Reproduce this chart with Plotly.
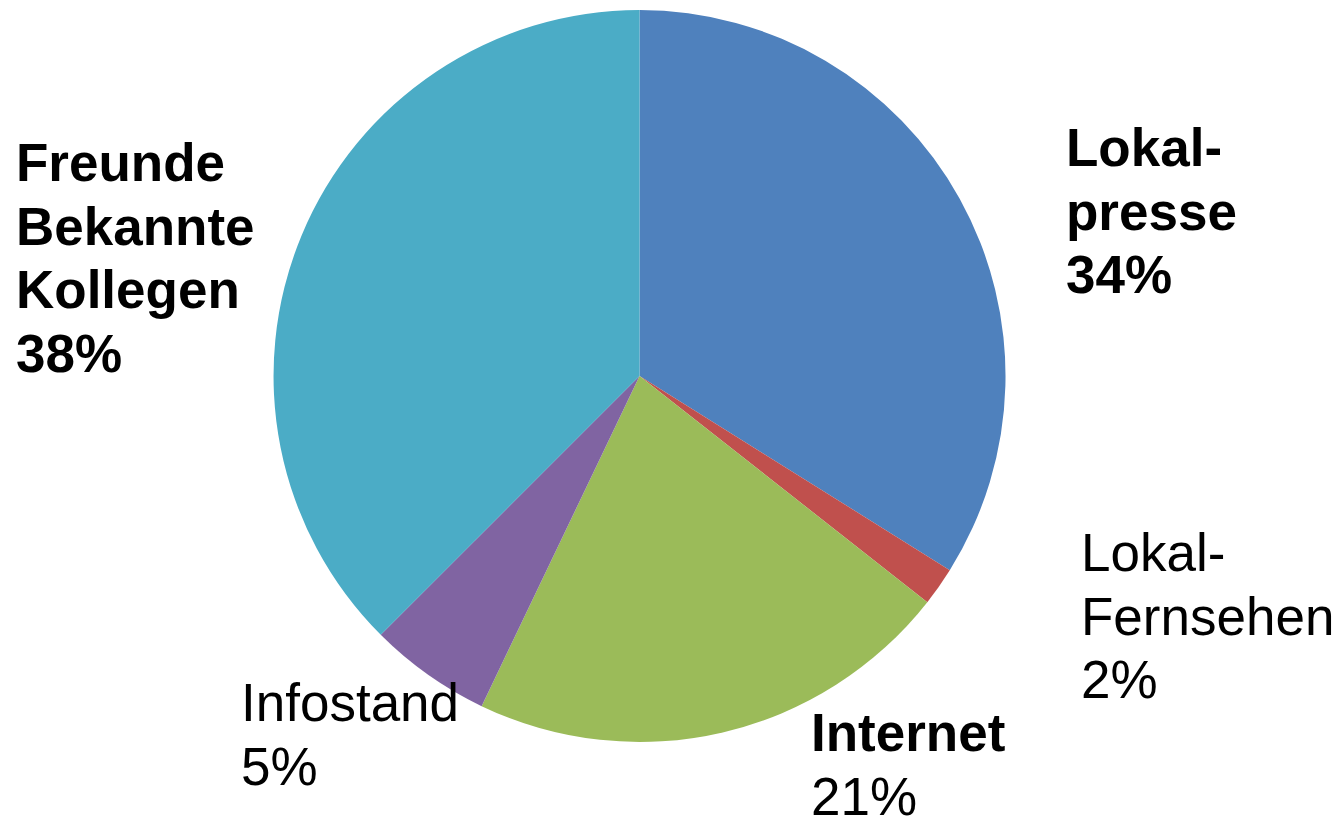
import plotly.graph_objects as go

# ---- data ----
categories = ["Lokalpresse", "Lokal-Fernsehen", "Internet", "Infostand", "Freunde Bekannte Kollegen"]
values = [33.9, 1.7, 21.5, 5.4, 37.5]
colors = ["#4F81BD", "#C0504D", "#9BBB59", "#8064A2", "#4BACC6"]
label_lines = [
    ["Lokal-", "presse", "34%"],
    ["Lokal-", "Fernsehen", "2%"],
    ["Internet", "21%"],
    ["Infostand", "5%"],
    ["Freunde", "Bekannte", "Kollegen", "38%"],
]
label_bold = [
    [True, True, True],
    [False, False, False],
    [True, False],
    [False, False],
    [True, True, True, True],
]
# label anchor: left x and first baseline y (pixels)
label_pos = [(1068, 166), (1083, 571), (813, 751), (243, 721), (18, 181)]

W, H = 1342, 822
FS = 53
LINE = 63.5

fig = go.Figure(go.Pie(
    labels=categories,
    values=values,
    sort=False,
    direction="clockwise",
    rotation=0,
    marker=dict(colors=colors, line=dict(width=0)),
    textinfo="none",
    hoverinfo="label+percent",
    showlegend=False,
    domain=dict(x=[0.2038, 0.7493], y=[0.0973, 0.9878]),
))

annotations = []
for lines, bolds, (lx, by) in zip(label_lines, label_bold, label_pos):
    for i, (txt, b) in enumerate(zip(lines, bolds)):
        base = by + i * LINE
        ymid = base - 0.3465 * FS
        annotations.append(dict(
            x=(lx - 4) / W, y=1 - ymid / H,
            xref="paper", yref="paper",
            xanchor="left", yanchor="middle",
            text=f"<b>{txt}</b>" if b else txt,
            showarrow=False,
            font=dict(family="Liberation Sans, Arial, sans-serif", size=FS, color="#000000"),
        ))

fig.update_layout(
    width=W, height=H,
    margin=dict(l=0, r=0, t=0, b=0),
    paper_bgcolor="white",
    plot_bgcolor="white",
    annotations=annotations,
)

fig.write_html(
    "out.html",
    config={"displayModeBar": False},
    post_script="document.body.style.margin='0';document.body.style.overflow='hidden';",
)
